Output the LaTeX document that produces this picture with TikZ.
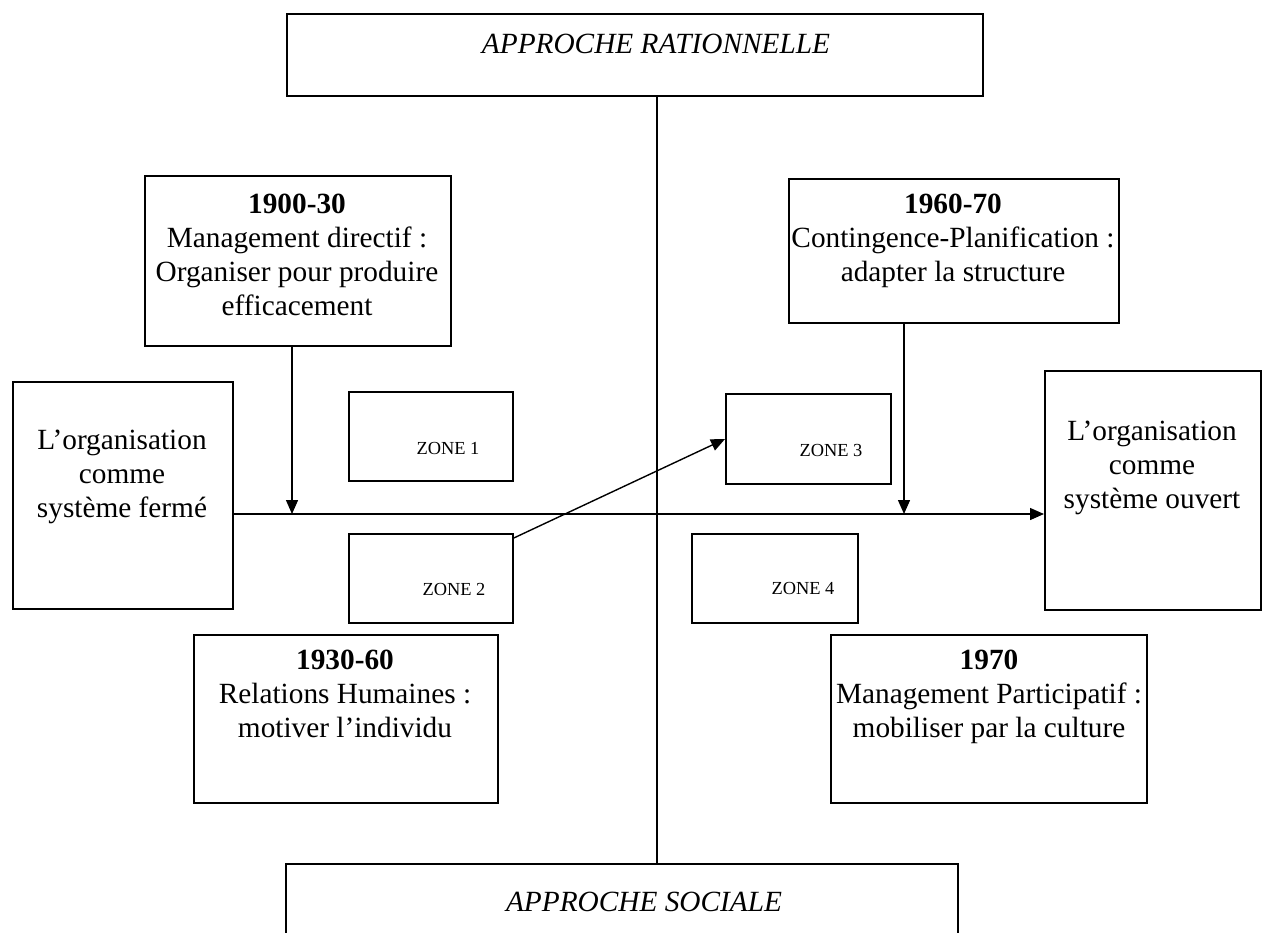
\documentclass[tikz,border=0pt]{standalone}
\usepackage{fontspec}
\setmainfont{Liberation Serif}
\usetikzlibrary{arrows.meta}
\begin{document}
\begin{tikzpicture}[x=0.5pt,y=-0.5pt,
  box/.style={draw,line width=0.9pt,rectangle,inner sep=0pt,anchor=north west},
  txt/.style={align=center,inner sep=0pt,font=\fontsize{14.65}{16.9}\selectfont},
  ztxt/.style={inner sep=0pt,font=\fontsize{9.2}{11}\selectfont},
  conn/.style={line width=0.7pt,-{Triangle[length=7pt,width=6pt]}}]
\useasboundingbox (0,0) rectangle (1262,932);
\clip (0,0) rectangle (1262,932);
% top and bottom boxes
\node[box,minimum width=348pt,minimum height=41pt] (top) at (286,13) {};
\node[txt] (toptxt) at (656,44) {\itshape APPROCHE RATIONNELLE};
\node[box,minimum width=336pt,minimum height=45pt] (bot) at (285,863) {};
\node[txt] (bottxt) at (644,902) {\itshape APPROCHE SOCIALE};
\coordinate (vt) at (657,95);
\coordinate (vb) at (657,863);
\draw[line width=1.35pt] (vt) -- (vb);
% era boxes
\node[box,minimum width=153pt,minimum height=85pt] (b1) at (144,175) {};
\node[txt,anchor=north] (b1t) at (297,194) {\textbf{1900-30}\\Management directif :\\Organiser pour produire\\efficacement};
\node[box,minimum width=165pt,minimum height=72pt] (b2) at (788,178) {};
\node[txt,anchor=north] (b2t) at (953,194) {\textbf{1960-70}\\Contingence-Planification :\\adapter la structure};
\node[box,minimum width=152pt,minimum height=84pt] (b3) at (193,634) {};
\node[txt,anchor=north] (b3t) at (345,650) {\textbf{1930-60}\\Relations Humaines :\\ motiver l'individu};
\node[box,minimum width=158pt,minimum height=84pt] (b4) at (830,634) {};
\node[txt,anchor=north] (b4t) at (989,650) {\textbf{1970}\\Management Participatif :\\mobiliser par la culture};
% side boxes
\node[box,minimum width=110pt,minimum height=113.5pt] (left) at (12,381) {};
\node[txt,anchor=north] (leftt) at (122,430) {L'organisation\\comme\\système fermé};
\node[box,minimum width=108pt,minimum height=119.5pt] (right) at (1044,370) {};
\node[txt,anchor=north] (rightt) at (1152,421) {L'organisation\\comme\\système ouvert};
% zones
\node[box,minimum width=82pt,minimum height=44.5pt] (z1) at (348,391) {};
\node[ztxt] (z1t) at (448,448) {ZONE 1};
\node[box,minimum width=82pt,minimum height=44.5pt] (z2) at (348,533) {};
\node[ztxt] (z2t) at (454,589) {ZONE 2};
\node[box,minimum width=82.5pt,minimum height=45pt] (z3) at (725,393) {};
\node[ztxt] (z3t) at (831,450) {ZONE 3};
\node[box,minimum width=83pt,minimum height=44.5pt] (z4) at (691,533) {};
\node[ztxt] (z4t) at (803,588) {ZONE 4};
% connectors
\coordinate (hl) at (232,514);
\draw[conn] (left.east |- hl) -- (right.west |- hl);
\draw[conn] (b1.south -| 292,0) -- (292,514);
\draw[conn] (b2.south -| 904,0) -- (904,514);
\draw[conn] (z2.north east |- 0,538) -- (z3.west |- 0,439);
\end{tikzpicture}
\end{document}
